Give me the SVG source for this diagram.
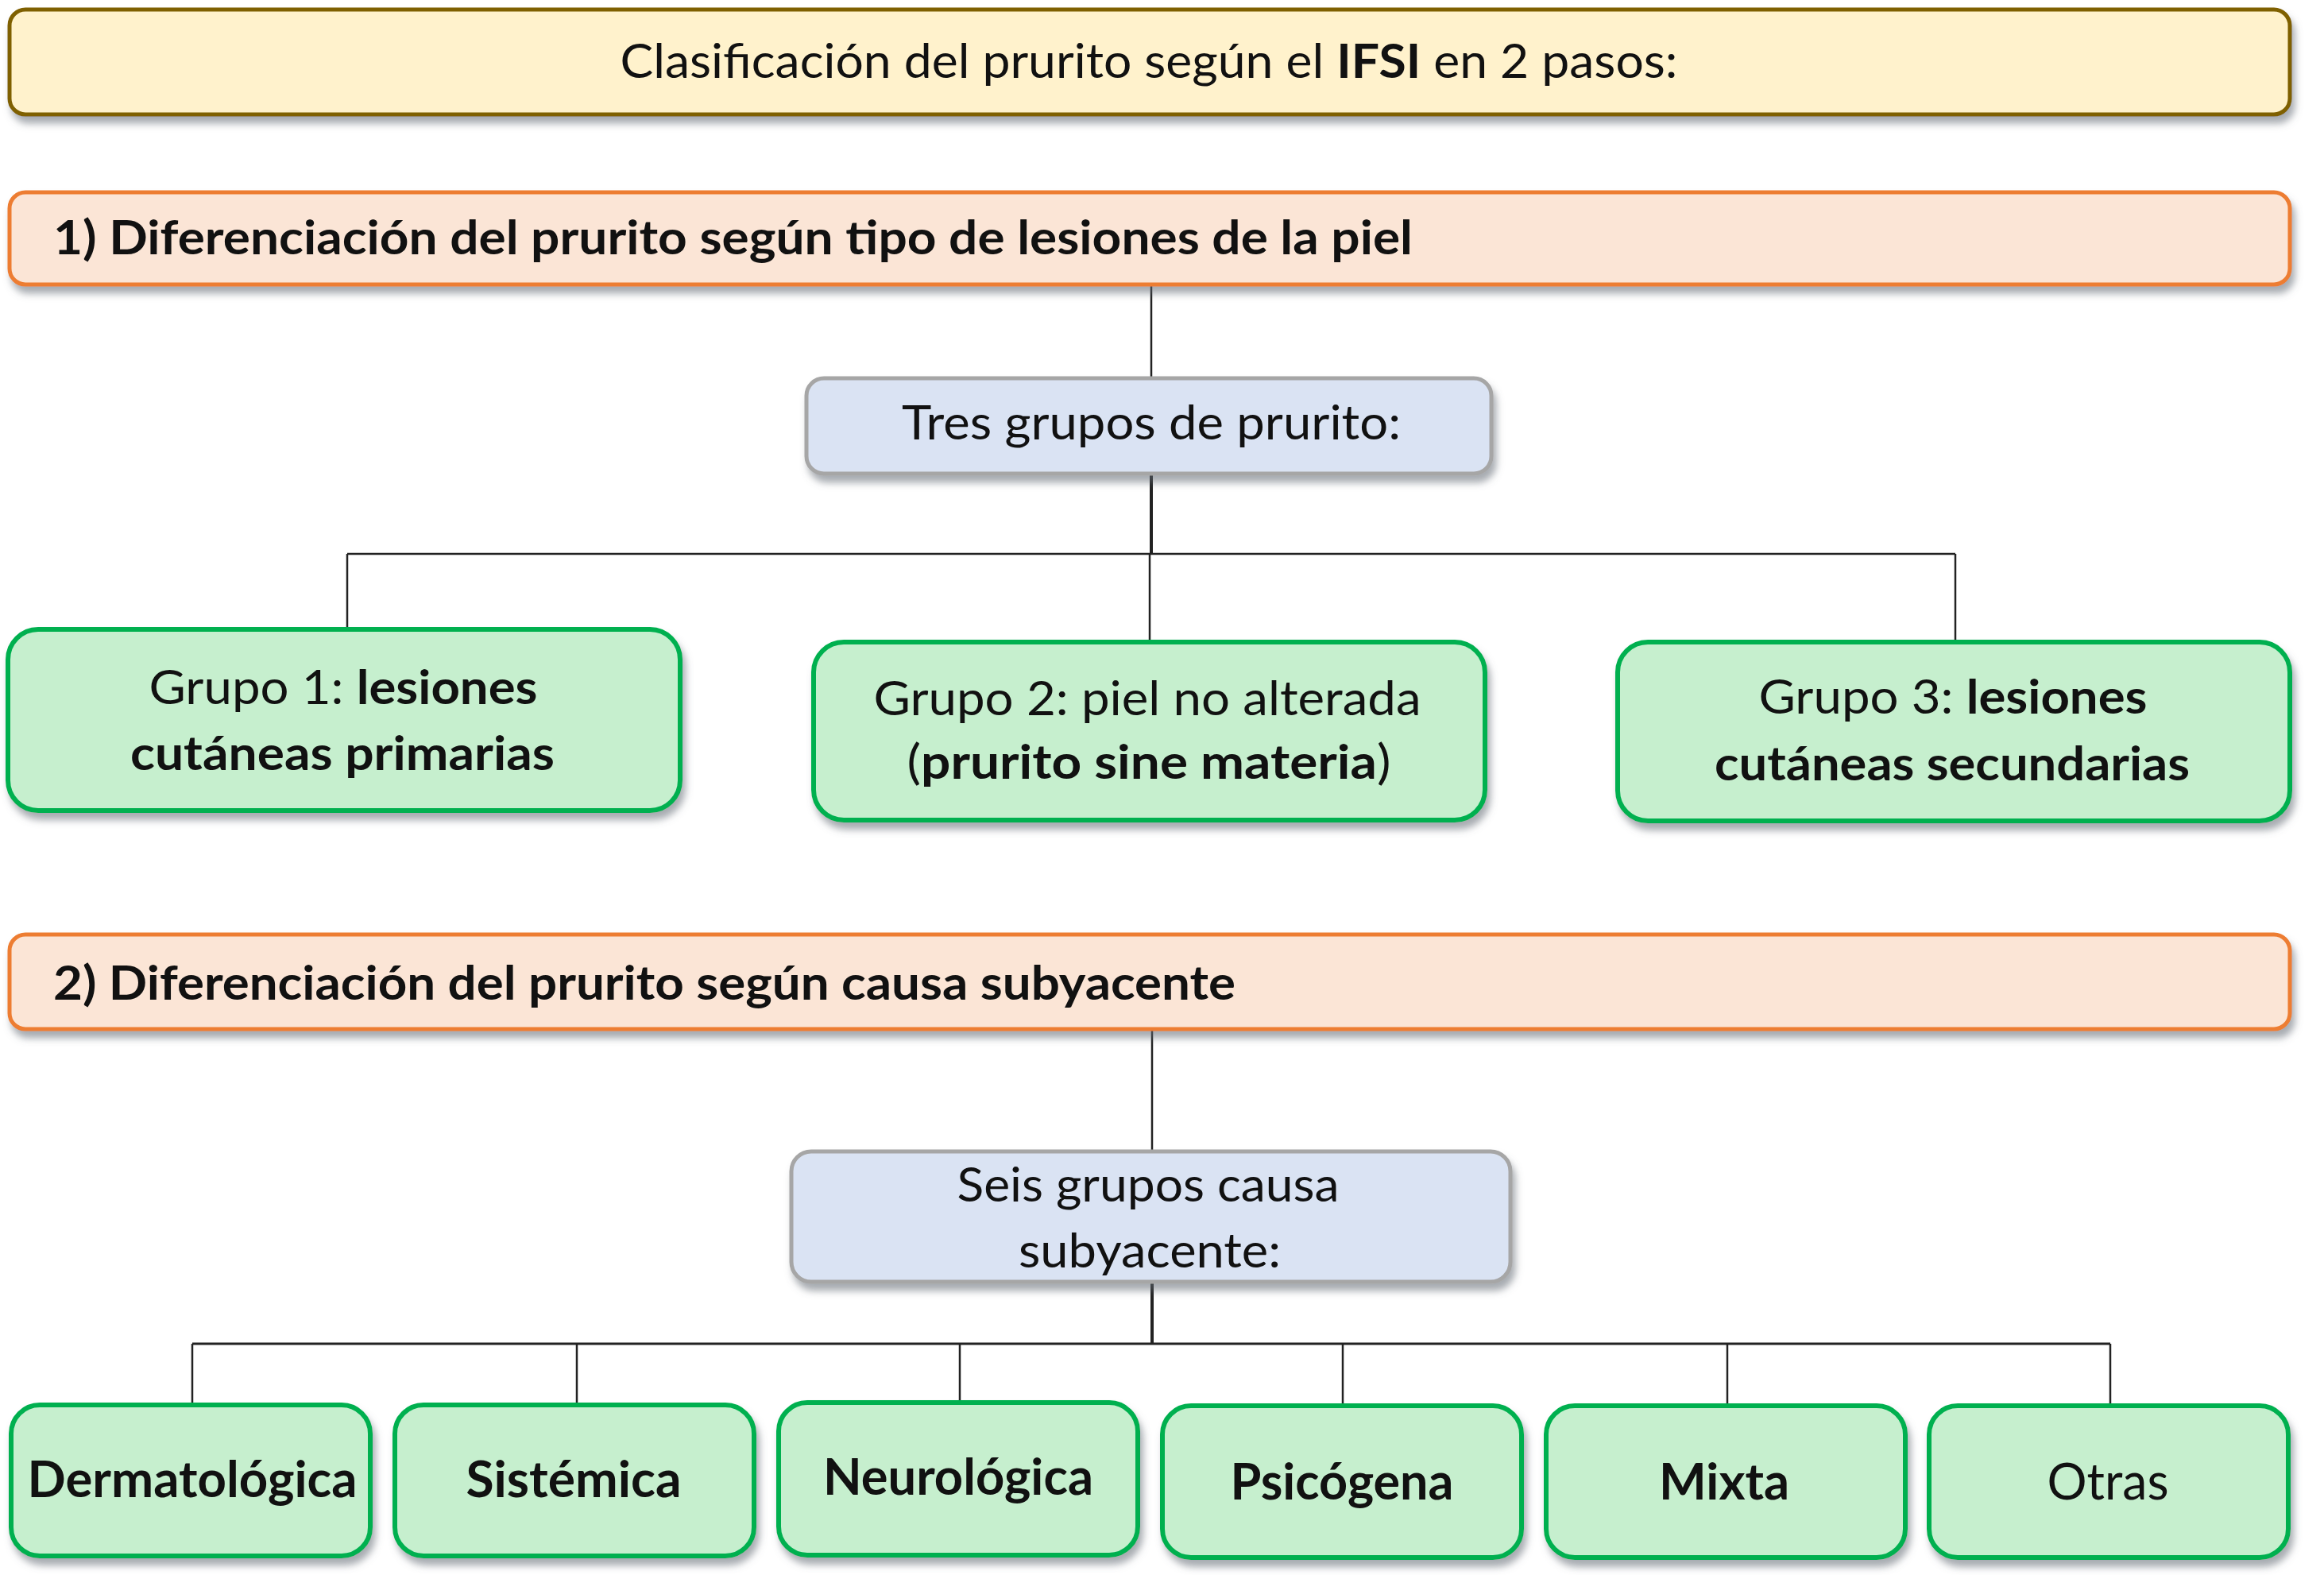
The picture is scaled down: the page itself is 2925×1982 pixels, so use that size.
<svg xmlns="http://www.w3.org/2000/svg" width="2925" height="1982" viewBox="0 0 2925 1982">
<defs>
<filter id="sh" x="-5%" y="-20%" width="110%" height="150%">
<feDropShadow dx="4" dy="9" stdDeviation="5" flood-color="#5f6670" flood-opacity="0.55"/>
</filter>
<style>
text{font-family:Lato,"Open Sans","Liberation Sans",sans-serif;fill:#111;font-size:60px}
.b{font-weight:bold}
.t{fill:#fff2cc;stroke:#7f6000;stroke-width:5}
.s{fill:#fbe5d6;stroke:#ed7d31;stroke-width:5}
.g{fill:#dae3f3;stroke:#a6a6a6;stroke-width:5}
.n{fill:#c6efce;stroke:#00b050;stroke-width:6}
.c line{stroke:#222;stroke-width:2.5}
.big{font-size:64px}
</style>
</defs>
<rect width="2925" height="1982" fill="#fff"/>
<g id="connectors" class="c">
<line x1="1449" y1="358" x2="1449" y2="476"/>
<line x1="1449" y1="596" x2="1449" y2="697" style="stroke-width:4"/>
<line x1="437" y1="697" x2="2461" y2="697"/>
<line x1="437" y1="697" x2="437" y2="792"/>
<line x1="1447" y1="697" x2="1447" y2="808"/>
<line x1="2461" y1="697" x2="2461" y2="808"/>
<line x1="1450" y1="1295" x2="1450" y2="1449"/>
<line x1="1450" y1="1613" x2="1450" y2="1691" style="stroke-width:4"/>
<line x1="242" y1="1691" x2="2656" y2="1691" style="stroke-width:3"/>
<line x1="242" y1="1691" x2="242" y2="1768"/>
<line x1="726" y1="1691" x2="726" y2="1768"/>
<line x1="1208" y1="1691" x2="1208" y2="1765"/>
<line x1="1690" y1="1691" x2="1690" y2="1769"/>
<line x1="2174" y1="1691" x2="2174" y2="1769"/>
<line x1="2656" y1="1691" x2="2656" y2="1769"/>
</g>
<g id="title">
<rect class="t" x="12" y="12" width="2870" height="132" rx="20" filter="url(#sh)"/>
<text x="1446" y="98" text-anchor="middle" textLength="1331" lengthAdjust="spacingAndGlyphs">Clasificación del prurito según el <tspan class="b">IFSI</tspan> en 2 pasos:</text>
</g>
<g id="paso1">
<rect class="s" x="12" y="242" width="2870" height="116" rx="20" filter="url(#sh)"/>
<text class="b" x="67" y="320" textLength="1711" lengthAdjust="spacingAndGlyphs">1) Diferenciación del prurito según tipo de lesiones de la piel</text>
</g>
<g id="tres">
<rect class="g" x="1015" y="476" width="862" height="120" rx="22" filter="url(#sh)"/>
<text x="1449" y="553" text-anchor="middle" textLength="628" lengthAdjust="spacingAndGlyphs">Tres grupos de prurito:</text>
</g>
<g id="grupo1">
<rect class="n" x="10" y="792" width="846" height="228" rx="38" filter="url(#sh)"/>
<text x="432" y="886" text-anchor="middle" textLength="489" lengthAdjust="spacingAndGlyphs">Grupo 1: <tspan class="b">lesiones</tspan></text>
<text class="b" x="431" y="969" text-anchor="middle" textLength="534" lengthAdjust="spacingAndGlyphs">cutáneas primarias</text>
</g>
<g id="grupo2">
<rect class="n" x="1024" y="808" width="845" height="224" rx="38" filter="url(#sh)"/>
<text x="1444" y="900" text-anchor="middle" textLength="689" lengthAdjust="spacingAndGlyphs">Grupo 2: piel no alterada</text>
<text x="1446" y="980" text-anchor="middle" textLength="609" lengthAdjust="spacingAndGlyphs">(<tspan class="b">prurito sine materia</tspan>)</text>
</g>
<g id="grupo3">
<rect class="n" x="2036" y="808" width="846" height="225" rx="38" filter="url(#sh)"/>
<text x="2458" y="898" text-anchor="middle" textLength="489" lengthAdjust="spacingAndGlyphs">Grupo 3: <tspan class="b">lesiones</tspan></text>
<text class="b" x="2457" y="982" text-anchor="middle" textLength="598" lengthAdjust="spacingAndGlyphs">cutáneas secundarias</text>
</g>
<g id="paso2">
<rect class="s" x="12" y="1176" width="2870" height="119" rx="20" filter="url(#sh)"/>
<text class="b" x="67" y="1258" textLength="1488" lengthAdjust="spacingAndGlyphs">2) Diferenciación del prurito según causa subyacente</text>
</g>
<g id="seis">
<rect class="g" x="996" y="1449" width="905" height="164" rx="25" filter="url(#sh)"/>
<text x="1445" y="1512" text-anchor="middle" textLength="481" lengthAdjust="spacingAndGlyphs">Seis grupos causa</text>
<text x="1447" y="1595" text-anchor="middle" textLength="330" lengthAdjust="spacingAndGlyphs">subyacente:</text>
</g>
<g id="dermatologica">
<rect class="n" x="14" y="1768" width="452" height="190" rx="36" filter="url(#sh)"/>
<text class="b big" x="242" y="1884" text-anchor="middle" textLength="415" lengthAdjust="spacingAndGlyphs">Dermatológica</text>
</g>
<g id="sistemica">
<rect class="n" x="497" y="1768" width="452" height="190" rx="36" filter="url(#sh)"/>
<text class="b big" x="722" y="1884" text-anchor="middle" textLength="271" lengthAdjust="spacingAndGlyphs">Sistémica</text>
</g>
<g id="neurologica">
<rect class="n" x="980" y="1765" width="452" height="192" rx="36" filter="url(#sh)"/>
<text class="b big" x="1206" y="1881" text-anchor="middle" textLength="340" lengthAdjust="spacingAndGlyphs">Neurológica</text>
</g>
<g id="psicogena">
<rect class="n" x="1463" y="1769" width="452" height="191" rx="36" filter="url(#sh)"/>
<text class="b big" x="1689" y="1887" text-anchor="middle" textLength="281" lengthAdjust="spacingAndGlyphs">Psicógena</text>
</g>
<g id="mixta">
<rect class="n" x="1946" y="1769" width="452" height="191" rx="36" filter="url(#sh)"/>
<text class="b big" x="2170" y="1887" text-anchor="middle" textLength="164" lengthAdjust="spacingAndGlyphs">Mixta</text>
</g>
<g id="otras">
<rect class="n" x="2428" y="1769" width="452" height="191" rx="36" filter="url(#sh)"/>
<text class="big" x="2653" y="1887" text-anchor="middle" textLength="153" lengthAdjust="spacingAndGlyphs">Otras</text>
</g>
</svg>
